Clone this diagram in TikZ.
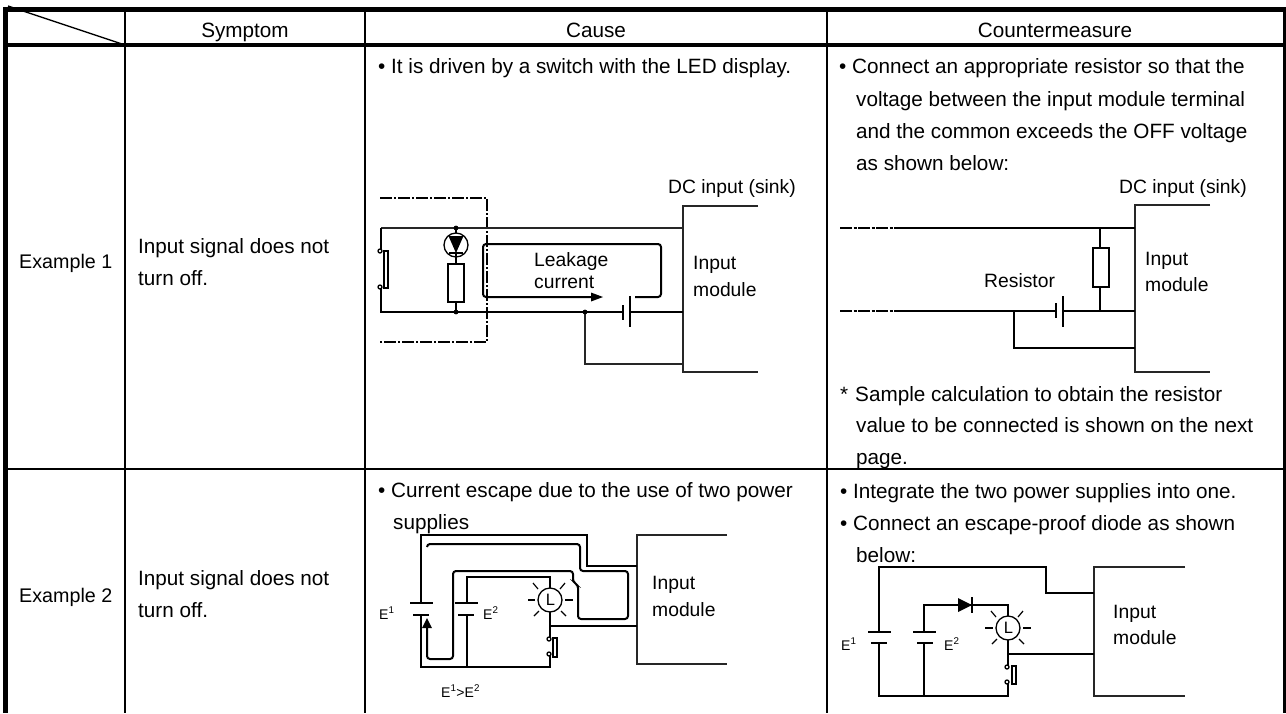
\documentclass[tikz,border=0pt]{standalone}
\usepackage{fontspec}
\setmainfont{Liberation Sans}
\tikzset{
	cell/.style={anchor=base west, inner sep=0pt, font=\fontsize{20.7}{24}\selectfont},
	head/.style={anchor=base, inner sep=0pt, font=\fontsize{20.7}{24}\selectfont},
	rowname/.style={anchor=base west, inner sep=0pt, font=\fontsize{19.7}{24}\selectfont},
	tag/.style={anchor=base west, inner sep=0pt, font=\fontsize{19.3}{24}\selectfont},
	small/.style={anchor=base west, inner sep=0pt, font=\fontsize{14}{16}\selectfont},
	lampmark/.style={anchor=center, inner sep=0pt, font=\fontsize{16.5}{18}\selectfont},
	wire/.style={black, line width=1.8pt},
	thinwire/.style={black!85, line width=1.3pt},
	flow/.style={black, line width=2pt, rounded corners=3pt},
	frame/.style={black, line width=2pt},
	bulb/.style={black, line width=1.3pt, fill=white},
	ray/.style={black, line width=1.2pt}
}
\begin{document}
\begin{tikzpicture}[x=1pt,y=1pt]
	\useasboundingbox (0,0) rectangle (1286,-713);
	\draw [black, line width=5pt] (5,-713) -- (5,-9.5) -- (1286,-9.5);
	\draw [black, line width=4pt] (3,-45) -- (1286,-45);
	\draw [black, line width=3pt] (1284.5,-8) -- (1284.5,-713);
	\draw [frame] (3,-469) -- (1286,-469);
	\draw [frame] (125,-9) -- (125,-713);
	\draw [frame] (365,-9) -- (365,-713);
	\draw [frame] (827,-9) -- (827,-713);
	\draw [black, line width=1.4pt] (8,-6) -- (125,-45);
	\node [head] (symptomhead) at (245,-37) {Symptom};
	\node [head] (causehead) at (596,-37) {Cause};
	\node [head] (counterhead) at (1055,-37) {Countermeasure};
	\node [rowname] (exone) at (19,-268) {Example 1};
	\node [cell] (inone) at (138,-253) {Input signal does not};
	\node [cell] (offone) at (138,-285) {turn off.};
	\node [rowname] (extwo) at (19,-602) {Example 2};
	\node [cell] (intwo) at (138,-585) {Input signal does not};
	\node [cell] (offtwo) at (138,-617) {turn off.};
	\node [cell] (driven) at (378,-73) {• It is driven by a switch with the LED display.};
	\node [cell] (connect) at (839,-73) {• Connect an appropriate resistor so that the};
	\node [cell] (voltage) at (856,-106) {voltage between the input module terminal};
	\node [cell] (common) at (856,-138) {and the common exceeds the OFF voltage};
	\node [cell] (asbelow) at (856,-170) {as shown below:};
	\node [cell] (sample) at (840,-401) {*};
	\node [cell] (sampletext) at (855,-401) {Sample calculation to obtain the resistor};
	\node [cell] (valueline) at (856,-432) {value to be connected is shown on the next};
	\node [cell] (pageline) at (856,-464) {page.};
	\node [cell] (escape) at (378,-497) {• Current escape due to the use of two power};
	\node [cell] (supplies) at (393,-529) {supplies};
	\node [cell] (integrate) at (840,-498) {• Integrate the two power supplies into one.};
	\node [cell] (diodeline) at (840,-530) {• Connect an escape-proof diode as shown};
	\node [cell] (belowline) at (856,-562) {below:};
	\node [tag] (dcleft) at (668,-193) {DC input (sink)};
	\node [tag] (dcright) at (1119,-193) {DC input (sink)};
	\node [tag] (leakage) at (534,-266) {Leakage};
	\node [tag] (current) at (534,-288) {current};
	\node [tag] (inputa) at (693,-269) {Input};
	\node [tag] (modulea) at (693,-296) {module};
	\node [tag] (resistor) at (984,-287) {Resistor};
	\node [tag] (inputb) at (1145,-265) {Input};
	\node [tag] (moduleb) at (1145,-291) {module};
	\node [tag] (inputc) at (652,-589) {Input};
	\node [tag] (modulec) at (652,-616) {module};
	\node [tag] (inputd) at (1113,-618) {Input};
	\node [tag] (moduled) at (1113,-644) {module};
	\node [small] (eonec) at (379,-619) {E\textsuperscript{1}};
	\node [small] (etwoc) at (483,-619) {E\textsuperscript{2}};
	\node [small] (ecompare) at (441,-697) {E\textsuperscript{1}>E\textsuperscript{2}};
	\node [small] (eoned) at (841,-650) {E\textsuperscript{1}};
	\node [small] (etwod) at (944,-650) {E\textsuperscript{2}};
	\draw [thinwire] (758,-206) -- (683,-206) -- (683,-372) -- (758,-372);
	\draw [black, line width=1.4pt, dash pattern=on 12pt off 2pt on 2pt off 2pt] (380,-198) -- (487,-198) -- (487,-342) -- (380,-342);
	\draw [thinwire] (683,-228) -- (381,-228);
	\draw [wire] (381,-228) -- (381,-249);
	\draw [wire] (381,-289) -- (381,-312) -- (623,-312);
	\draw [wire] (630,-312) -- (683,-312);
	\draw [wire] (623,-305) -- (623,-320);
	\draw [wire] (630,-296) -- (630,-327);
	\draw [thinwire] (585,-312) -- (585,-364) -- (683,-364);
	\draw [bulb] (380,-251) circle (2);
	\draw [bulb] (380,-287) circle (2);
	\draw [bulb] (384,-251) rectangle (388,-288);
	\draw [wire] (456,-228) -- (456,-233);
	\draw [bulb] (456,-245) circle (12);
	\fill [black] (448.5,-236) -- (463.5,-236) -- (456,-253) -- cycle;
	\draw [wire] (449,-253) -- (463,-253);
	\draw [wire] (456,-253) -- (456,-264);
	\draw [bulb] (448,-264) rectangle (464,-302);
	\draw [wire] (456,-302) -- (456,-312);
	\fill [black] (456,-228) circle (2.4);
	\fill [black] (456,-312) circle (2.4);
	\fill [black] (585,-312) circle (2.4);
	\draw [flow] (635,-297) -- (661,-297) -- (661,-244) -- (483,-244) -- (483,-297) -- (592,-297);
	\fill [black] (591,-292.5) -- (603,-297) -- (591,-301.5) -- cycle;
	\draw [thinwire] (1210,-205) -- (1135,-205) -- (1135,-372) -- (1210,-372);
	\draw [wire, dash pattern=on 12pt off 1.5pt on 3pt off 1.5pt] (840,-228) -- (900,-228);
	\draw [wire] (900,-228) -- (1135,-228);
	\draw [wire, dash pattern=on 12pt off 1.5pt on 3pt off 1.5pt] (840,-311) -- (900,-311);
	\draw [wire] (900,-311) -- (1056,-311);
	\draw [wire] (1063,-311) -- (1135,-311);
	\draw [wire] (1056,-303) -- (1056,-318);
	\draw [wire] (1063,-296) -- (1063,-327);
	\draw [wire] (1014,-311) -- (1014,-348) -- (1135,-348);
	\draw [wire] (1100,-228) -- (1100,-248);
	\draw [bulb] (1093,-248) rectangle (1109,-287);
	\draw [wire] (1100,-287) -- (1100,-311);
	\draw [thinwire] (727,-535) -- (637,-535) -- (637,-664) -- (727,-664);
	\draw [wire] (421,-603) -- (421,-535) -- (587,-535) -- (587,-566) -- (637,-566);
	\draw [wire] (410,-603) -- (433,-603);
	\draw [wire] (413,-615) -- (429,-615);
	\draw [wire] (421,-615) -- (421,-667) -- (550,-667) -- (550,-656);
	\draw [wire] (455,-603) -- (478,-603);
	\draw [wire] (458,-615) -- (474,-615);
	\draw [wire] (467,-603) -- (467,-577) -- (550,-577) -- (550,-637);
	\draw [wire] (467,-615) -- (467,-667);
	\draw [wire] (550,-626) -- (637,-626);
	\draw [bulb] (550,-600) circle (12);
	\node [lampmark] (lampc) at (550.5,-600) {L};
	\draw [ray] (528,-600) -- (535,-600);
	\draw [ray] (565,-600) -- (573,-600);
	\draw [ray] (533,-583) -- (538,-589);
	\draw [ray] (565,-583) -- (560,-589);
	\draw [ray] (534,-616) -- (539,-611);
	\draw [ray] (566,-616) -- (561,-611);
	\draw [bulb] (549,-639) circle (2);
	\draw [bulb] (549,-654) circle (2);
	\draw [bulb] (553,-638) rectangle (557,-657);
	\draw [flow] (427,-547) -- (427,-544) -- (580,-544) -- (580,-571) -- (628,-571) -- (628,-619) -- (578,-619) -- (578,-585) -- (573,-582) -- (573,-571) -- (453,-571) -- (453,-659) -- (427,-659) -- (427,-626);
	\fill [black] (422,-628) -- (427,-618) -- (432,-628) -- cycle;
	\draw [thinwire] (1185,-567) -- (1094,-567) -- (1094,-696) -- (1185,-696);
	\draw [wire] (879,-632) -- (879,-567) -- (1046,-567) -- (1046,-593) -- (1094,-593);
	\draw [wire] (868,-632) -- (891,-632);
	\draw [wire] (871,-643) -- (887,-643);
	\draw [wire] (879,-643) -- (879,-696) -- (1008,-696) -- (1008,-684);
	\draw [wire] (913,-632) -- (936,-632);
	\draw [wire] (917,-643) -- (933,-643);
	\draw [wire] (924,-632) -- (924,-605) -- (1008,-605) -- (1008,-665);
	\draw [wire] (924,-643) -- (924,-696);
	\draw [wire] (1008,-654) -- (1094,-654);
	\fill [black] (958,-598) -- (972,-605) -- (958,-612) -- cycle;
	\draw [wire] (972,-597) -- (972,-613);
	\draw [bulb] (1008,-628) circle (12);
	\node [lampmark] (lampd) at (1008.5,-628) {L};
	\draw [ray] (985,-628) -- (993,-628);
	\draw [ray] (1023,-628) -- (1031,-628);
	\draw [ray] (991,-611) -- (996,-617);
	\draw [ray] (1023,-611) -- (1018,-617);
	\draw [ray] (992,-644) -- (997,-639);
	\draw [ray] (1024,-644) -- (1019,-639);
	\draw [bulb] (1007,-667) circle (2);
	\draw [bulb] (1007,-682) circle (2);
	\draw [bulb] (1012,-666) rectangle (1016,-684);
\end{tikzpicture}
\end{document}
